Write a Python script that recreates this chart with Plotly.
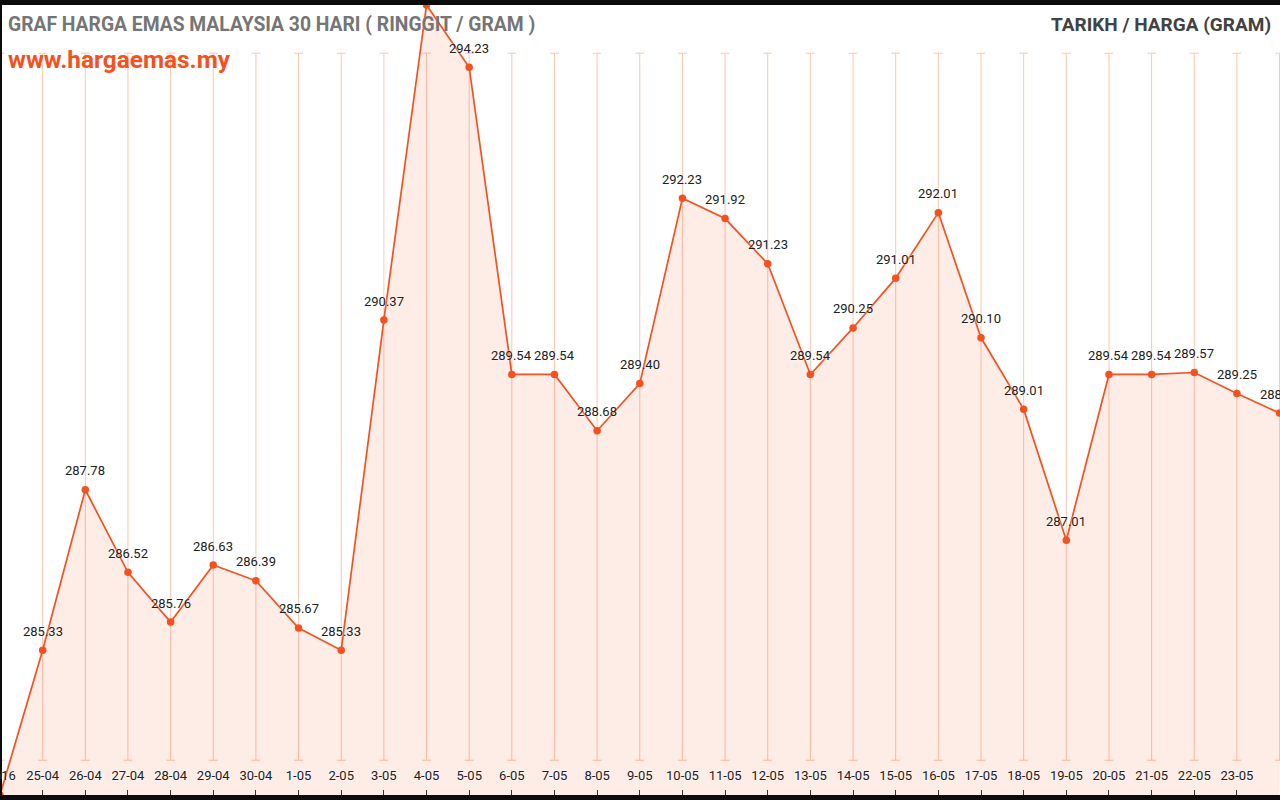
import plotly.graph_objects as go

dates = ["24-16", "25-04", "26-04", "27-04", "28-04", "29-04", "30-04", "1-05", "2-05",
         "3-05", "4-05", "5-05", "6-05", "7-05", "8-05", "9-05", "10-05", "11-05",
         "12-05", "13-05", "14-05", "15-05", "16-05", "17-05", "18-05", "19-05",
         "20-05", "21-05", "22-05", "23-05", "24-05"]
prices = [283.12, 285.33, 287.78, 286.52, 285.76, 286.63, 286.39, 285.67, 285.33,
          290.37, 295.18, 294.23, 289.54, 289.54, 288.68, 289.40, 292.23, 291.92,
          291.23, 289.54, 290.25, 291.01, 292.01, 290.10, 289.01, 287.01,
          289.54, 289.54, 289.57, 289.25, 288.95]

title_text = "GRAF HARGA EMAS MALAYSIA 30 HARI ( RINGGIT / GRAM )"
site_text = "www.hargaemas.my"
right_text = "TARIKH / HARGA (GRAM)"

ORANGE = "#f4511e"
GRID = "#fdc4b0"
FONT = "Roboto"
TICKFONT = dict(family=FONT, size=13, color="#212121", shadow="0px 0px 3px white")

idx = list(range(len(dates)))
last = len(dates) - 1
# the first label (cut at the left edge) is drawn as an annotation so it doesn't push margins;
# the last one falls outside the visible window
ticktext = [("" if i in (0, last) else d) for i, d in enumerate(dates)]

fig = go.Figure()
fig.add_trace(go.Scatter(
    x=idx, y=prices, mode="lines+markers",
    line=dict(color=ORANGE, width=1.7),
    marker=dict(color=ORANGE, size=7.5),
    fill="tozeroy", fillcolor="rgba(244,81,30,0.11)",
    hoverinfo="skip",
))

shapes = []
top_p, bot_p, cap = 0.939, 0.044, 0.105
for i in idx:
    shapes.append(dict(type="line", xref="x", yref="paper", x0=i, x1=i, y0=bot_p, y1=top_p,
                       line=dict(color=GRID, width=1), layer="below"))
    for yy in (top_p, bot_p):
        shapes.append(dict(type="line", xref="x", yref="paper", x0=i - cap, x1=i + cap,
                           y0=yy, y1=yy, line=dict(color=GRID, width=1), layer="below"))

annotations = []
for i, v in zip(idx[1:], prices[1:]):
    annotations.append(dict(x=i, y=v, xref="x", yref="y", text=f"{v:.2f}", showarrow=False,
                            yshift=19, font=dict(family=FONT, size=13, color="#212121",
                                                 shadow="0px 0px 3px white")))
annotations.append(dict(x=-0.0016, y=0.0253, xref="paper", yref="paper", xanchor="center",
                        yanchor="middle", text=dates[0], showarrow=False, font=TICKFONT))

annotations += [
    dict(x=0.0031, y=0.9747, xref="paper", yref="paper", xanchor="left", yanchor="middle",
         text=f"<b>{title_text}</b>", showarrow=False,
         font=dict(family=FONT, size=19.3, color="#757575")),
    dict(x=0.0031, y=0.9316, xref="paper", yref="paper", xanchor="left", yanchor="middle",
         text=f"<b>{site_text}</b>", showarrow=False,
         font=dict(family=FONT, size=24.4, color=ORANGE)),
    dict(x=0.9945, y=0.9747, xref="paper", yref="paper", xanchor="right", yanchor="middle",
         text=f"<b>{right_text}</b>", showarrow=False,
         font=dict(family=FONT, size=19, color="#424242")),
]

fig.update_layout(
    width=1280, height=800,
    margin=dict(l=2, r=0, t=5, b=5, autoexpand=False),
    paper_bgcolor="#0c0c0c", plot_bgcolor="white",
    showlegend=False,
    shapes=shapes, annotations=annotations,
    xaxis=dict(range=[0.047, 30.01], tickvals=idx, ticktext=ticktext,
               showgrid=False, zeroline=False, showline=False, automargin=False,
               ticks="inside", ticklen=5, tickcolor="#333333",
               ticklabelposition="inside", ticklabelstandoff=7,
               tickfont=TICKFONT),
    yaxis=dict(range=[283.12, 295.18], visible=False),
)

fig.write_html(
    "out.html",
    config={"displayModeBar": False},
    post_script="document.body.style.margin='0';document.body.style.overflow='hidden';"
                "document.documentElement.style.overflow='hidden';",
)
